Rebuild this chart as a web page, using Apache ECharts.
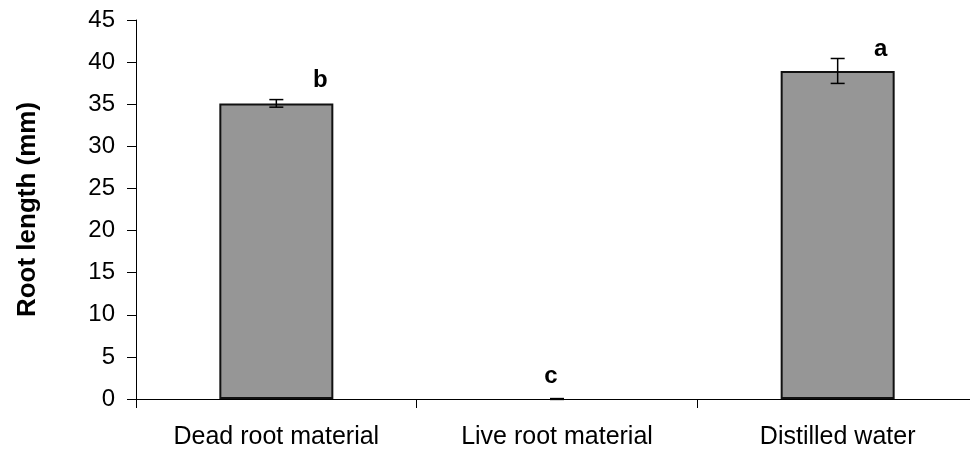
<!DOCTYPE html>
<html>
<head>
<meta charset="utf-8">
<script src="https://cdn.jsdelivr.net/npm/echarts@6/dist/echarts.min.js"></script>
<style>
  html, body { margin: 0; padding: 0; background: #fff; overflow: hidden; }
  #chart { width: 978px; height: 457px; }
</style>
</head>
<body>
<div id="chart"></div>
<script>
// data
const categories = ['Dead root material', 'Live root material', 'Distilled water']
const rootLength = [35.1, 0, 38.95]
const rootLengthErr = [0.45, 0.05, 1.48]
const sigLetters = ['b', 'c', 'a']
const letterY = [36.4, 1.25, 40.1]
const yTicks = [0, 5, 10, 15, 20, 25, 30, 35, 40, 45]

const font = '"Liberation Sans", Arial, sans-serif'
const letterOffsetX = [44, -6, 43]

const chart = echarts.init(document.getElementById('chart'), null, { renderer: 'canvas' })

const option = {
  animation: false,
  backgroundColor: '#fff',
  grid: {
    left: 136,
    right: 0,
    top: 20,
    bottom: 58
  },
  xAxis: {
    type: 'category',
    data: categories,
    boundaryGap: true,
    axisLine: { lineStyle: { color: '#000', width: 1 } },
    axisTick: { show: true, length: 9, lineStyle: { color: '#000' } },
    axisLabel: { color: '#000', fontFamily: font, fontSize: 25, margin: 26 }
  },
  yAxis: {
    type: 'value',
    min: yTicks[0],
    max: yTicks[yTicks.length - 1],
    interval: 5,
    name: 'Root length (mm)',
    nameLocation: 'middle',
    nameGap: 95,
    nameTextStyle: { color: '#000', fontFamily: font, fontSize: 26, fontWeight: 'bold' },
    axisLine: { show: true, lineStyle: { color: '#000', width: 1 } },
    axisTick: { show: true, length: 9, lineStyle: { color: '#000' } },
    axisLabel: { color: '#000', fontFamily: font, fontSize: 24, margin: 21 },
    splitLine: { show: false }
  },
  series: [
    {
      type: 'bar',
      // a zero bar gets no outline, so it does not thicken the axis line
      data: rootLength.map(v => (v ? v : { value: v, itemStyle: { borderWidth: 0 } })),
      barWidth: 114,
      itemStyle: { color: '#969696', borderColor: '#111', borderWidth: 2 }
    },
    {
      type: 'custom',
      data: rootLength.map((v, i) => [i, v, rootLengthErr[i]]),
      renderItem: (params, api) => {
        const i = api.value(0)
        const v = api.value(1)
        const e = api.value(2)
        const top = api.coord([i, v + e])
        const bot = api.coord([i, v - e])
        const hw = 7
        const style = { stroke: '#000', lineWidth: 1.5 }
        return {
          type: 'group',
          children: [
            { type: 'line', shape: { x1: top[0], y1: top[1], x2: bot[0], y2: bot[1] }, style },
            { type: 'line', shape: { x1: top[0] - hw, y1: top[1], x2: top[0] + hw, y2: top[1] }, style },
            { type: 'line', shape: { x1: bot[0] - hw, y1: bot[1], x2: bot[0] + hw, y2: bot[1] }, style }
          ]
        }
      },
      z: 5
    },
    {
      type: 'custom',
      data: sigLetters.map((s, i) => [i, letterY[i]]),
      renderItem: (params, api) => {
        const i = params.dataIndex
        const p = api.coord([api.value(0), api.value(1)])
        return {
          type: 'text',
          x: p[0] + letterOffsetX[i],
          y: p[1],
          style: {
            text: sigLetters[i],
            fill: '#000',
            font: 'bold 24px ' + font,
            textAlign: 'center',
            textVerticalAlign: 'bottom'
          }
        }
      },
      z: 6
    }
  ]
}

chart.setOption(option)
</script>
</body>
</html>
